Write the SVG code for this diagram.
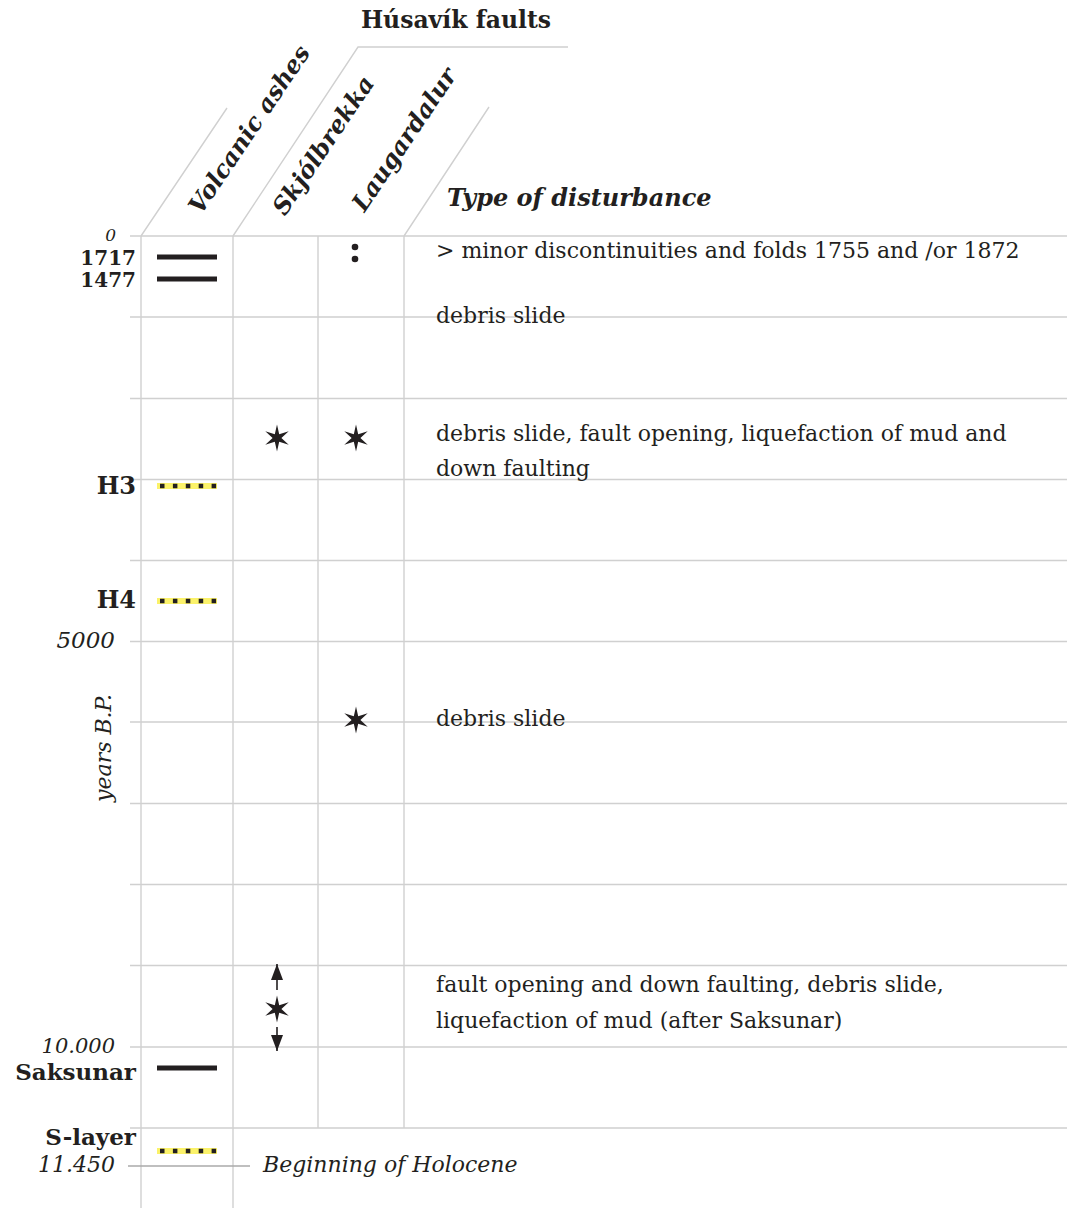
<svg xmlns="http://www.w3.org/2000/svg" width="1067" height="1208" viewBox="0 0 1067 1208">
<style>
text{font-family:"DejaVu Serif","Liberation Serif",serif;fill:#231f20}
.body{font-size:22px}
.b{font-weight:bold}
.i{font-style:italic}
.bi{font-weight:bold;font-style:italic}
.grid{stroke:#d0d0d0;stroke-width:1.4;fill:none}
.bar{stroke:#231f20;stroke-width:5}
.ash{fill:#fbf26a}
.dots{stroke:#231f20;stroke-width:4.5;stroke-dasharray:4.5 8.4}
.star{fill:#231f20}
.conn{stroke:#231f20;stroke-width:1.6;fill:none}
</style>
<defs>
<polygon id="star" points="0,-13.5 2.2,-3.8 11.7,-6.75 4.4,0 11.7,6.75 2.2,3.8 0,13.5 -2.2,3.8 -11.7,6.75 -4.4,0 -11.7,-6.75 -2.2,-3.8"/>
<g id="ashline"><rect class="ash" x="157" y="-3" width="60" height="6"/><line class="dots" x1="160" y1="0" x2="217" y2="0"/></g>
<marker id="ah" viewBox="0 0 16 12" refX="16" refY="6" markerWidth="16" markerHeight="12" markerUnits="userSpaceOnUse" orient="auto"><path d="M0,0 L16,6 L0,12 Z" fill="#231f20"/></marker>
</defs>

<g id="grid" class="grid">
<path d="M130,236H1067M130,317H1067M130,398.5H1067M130,479.5H1067M130,560.5H1067M130,641.5H1067M130,722H1067M130,803.5H1067M130,884.5H1067M130,965.5H1067M130,1047H1067M130,1128H1067"/>
<path d="M141,236V1208M233,236V1208M318,236V1128M404,236V1128"/>
<path d="M141,236L227,108M233,236L358,47H568M404,236L489,107"/>
</g>

<g id="header">
<text class="b" x="456" y="28" font-size="23.5" text-anchor="middle">Húsavík faults</text>
<text class="bi" x="447" y="206" font-size="24">Type of disturbance</text>
</g>

<g id="col-volcanic"><text class="bi" font-size="24" transform="translate(256,134) rotate(-56)" text-anchor="middle">Volcanic ashes</text></g>
<g id="col-skjolbrekka"><text class="bi" font-size="24" transform="translate(330,150) rotate(-56)" text-anchor="middle">Skjólbrekka</text></g>
<g id="col-laugardalur"><text class="bi" font-size="24" transform="translate(411,144) rotate(-56)" text-anchor="middle">Laugardalur</text></g>

<g id="axis">
<text class="i" x="116" y="241" font-size="17" text-anchor="end">0</text>
<text class="i" x="115" y="648" font-size="23" text-anchor="end">5000</text>
<text class="body i" transform="translate(111,748) rotate(-90)" text-anchor="middle">years B.P.</text>
<text class="i" x="115" y="1053" font-size="21" text-anchor="end">10.000</text>
<text class="i" x="115" y="1172" font-size="22" text-anchor="end">11.450</text>
<line x1="128" y1="1166" x2="250" y2="1166" stroke="#aaa" stroke-width="1.4"/>
<text class="body i" x="263" y="1172">Beginning of Holocene</text>
</g>

<g id="ash-1717"><text class="b" x="136" y="265" font-size="20" text-anchor="end">1717</text><line class="bar" x1="157" y1="257" x2="217" y2="257"/></g>
<g id="ash-1477"><text class="b" x="136" y="287" font-size="20" text-anchor="end">1477</text><line class="bar" x1="157" y1="279" x2="217" y2="279"/></g>
<g id="ash-h3"><text class="b" x="136" y="494" font-size="24" text-anchor="end">H3</text><use href="#ashline" y="486"/></g>
<g id="ash-h4"><text class="b" x="136" y="608" font-size="24" text-anchor="end">H4</text><use href="#ashline" y="601"/></g>
<g id="ash-saksunar"><text class="b" x="136" y="1080" font-size="23" text-anchor="end">Saksunar</text><line class="bar" x1="157" y1="1068" x2="217" y2="1068"/></g>
<g id="ash-slayer"><text class="b" x="136" y="1145" font-size="23" text-anchor="end">S-layer</text><use href="#ashline" y="1151"/></g>

<g id="event-1">
<circle cx="355" cy="247" r="3.3" class="star"/><circle cx="355" cy="259" r="3.3" class="star"/>
<text class="body" x="436" y="258">&gt; minor discontinuities and folds 1755 and /or 1872</text>
</g>
<g id="event-2"><text class="body" x="436" y="323">debris slide</text></g>
<g id="event-3">
<use href="#star" x="277" y="438" class="star"/><use href="#star" x="356" y="438" class="star"/>
<text class="body" x="436" y="441">debris slide, fault opening, liquefaction of mud and</text>
<text class="body" x="436" y="476">down faulting</text>
</g>
<g id="event-4">
<use href="#star" x="356" y="720" class="star"/>
<text class="body" x="436" y="726">debris slide</text>
</g>
<g id="event-5">
<use href="#star" x="277" y="1009" class="star"/>
<text class="body" x="436" y="992">fault opening and down faulting, debris slide,</text>
<text class="body" x="436" y="1028">liquefaction of mud (after Saksunar)</text>
</g>

<g id="connectors">
<line class="conn" x1="277" y1="990" x2="277" y2="964" marker-end="url(#ah)"/>
<line class="conn" x1="277" y1="1027" x2="277" y2="1051" marker-end="url(#ah)"/>
</g>
</svg>
